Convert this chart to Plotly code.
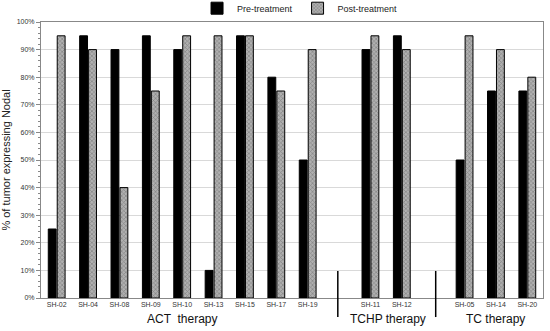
import plotly.graph_objects as go

patients = ["SH-02", "SH-04", "SH-08", "SH-09", "SH-10", "SH-13", "SH-15", "SH-17", "SH-19",
            "SH-11", "SH-12", "SH-05", "SH-14", "SH-20"]
slots = [0, 1, 2, 3, 4, 5, 6, 7, 8, 10, 11, 13, 14, 15]
pre_treatment = [25, 95, 90, 95, 90, 10, 95, 80, 50, 90, 95, 50, 75, 75]
post_treatment = [95, 90, 40, 75, 95, 95, 95, 75, 90, 95, 90, 95, 90, 80]
groups = ["ACT  therapy", "TCHP therapy", "TC therapy"]
group_pos = [4, 10.55, 14]
separators = [8.96, 12.08]
y_ticks = list(range(0, 101, 10))
y_tick_text = [f"{v}%" for v in y_ticks]

FONT = "Arial, Liberation Sans, sans-serif"

fig = go.Figure()
fig.add_trace(go.Bar(
    x=slots, y=pre_treatment, name="Pre-treatment",
    marker=dict(color="black", line=dict(color="black", width=1)),
))
fig.add_trace(go.Bar(
    x=slots, y=post_treatment, name="Post-treatment",
    marker=dict(color="#a0a0a0", line=dict(color="black", width=1),
                pattern=dict(shape="x", fgcolor="#555555", bgcolor="#b0b0b0", size=3, solidity=0.4)),
))

for xs in separators:
    fig.add_shape(type="line", xref="x", yref="paper", x0=xs, x1=xs, y0=0.098, y1=-0.069,
                  line=dict(color="black", width=1.5))

for g, p in zip(groups, group_pos):
    fig.add_annotation(x=p, y=-0.076, xref="x", yref="paper", text=g, showarrow=False,
                       yanchor="middle", font=dict(family=FONT, size=12, color="#111"))

fig.update_layout(
    width=550, height=331,
    margin=dict(l=41, r=7, t=22, b=33, autoexpand=False),
    paper_bgcolor="white", plot_bgcolor="white",
    barmode="group", bargap=0.43, bargroupgap=0.12,
    font=dict(family=FONT, size=7, color="#333"),
    legend=dict(orientation="h", x=0.516, xanchor="center", y=1.05, yanchor="middle",
                font=dict(family=FONT, size=9, color="#222"), itemwidth=30, bgcolor="rgba(0,0,0,0)",
                traceorder="normal"),
    showlegend=True,
)
fig.update_xaxes(range=[-0.5, 15.5], tickmode="array", tickvals=slots, ticktext=patients,
                 showgrid=False, showline=True, linecolor="#888", mirror=True, ticks="",
                 tickfont=dict(family=FONT, size=7, color="#333"), zeroline=False)
fig.update_yaxes(range=[0, 100], tickmode="array", tickvals=y_ticks, ticktext=y_tick_text,
                 showgrid=True, gridcolor="#d9d9d9", gridwidth=1,
                 showline=True, linecolor="#888", mirror=True, ticks="outside", ticklen=4,
                 tickcolor="#888", tickfont=dict(family=FONT, size=7, color="#333"), zeroline=False,
                 minor=dict(dtick=2, ticks="outside", ticklen=2, tickcolor="#888", showgrid=False),
                 title=dict(text="% of tumor expressing Nodal", font=dict(family=FONT, size=11, color="#222"), standoff=6))

fig.write_html("out.html", config={"displayModeBar": False},
               post_script="document.body.style.margin='0';")
